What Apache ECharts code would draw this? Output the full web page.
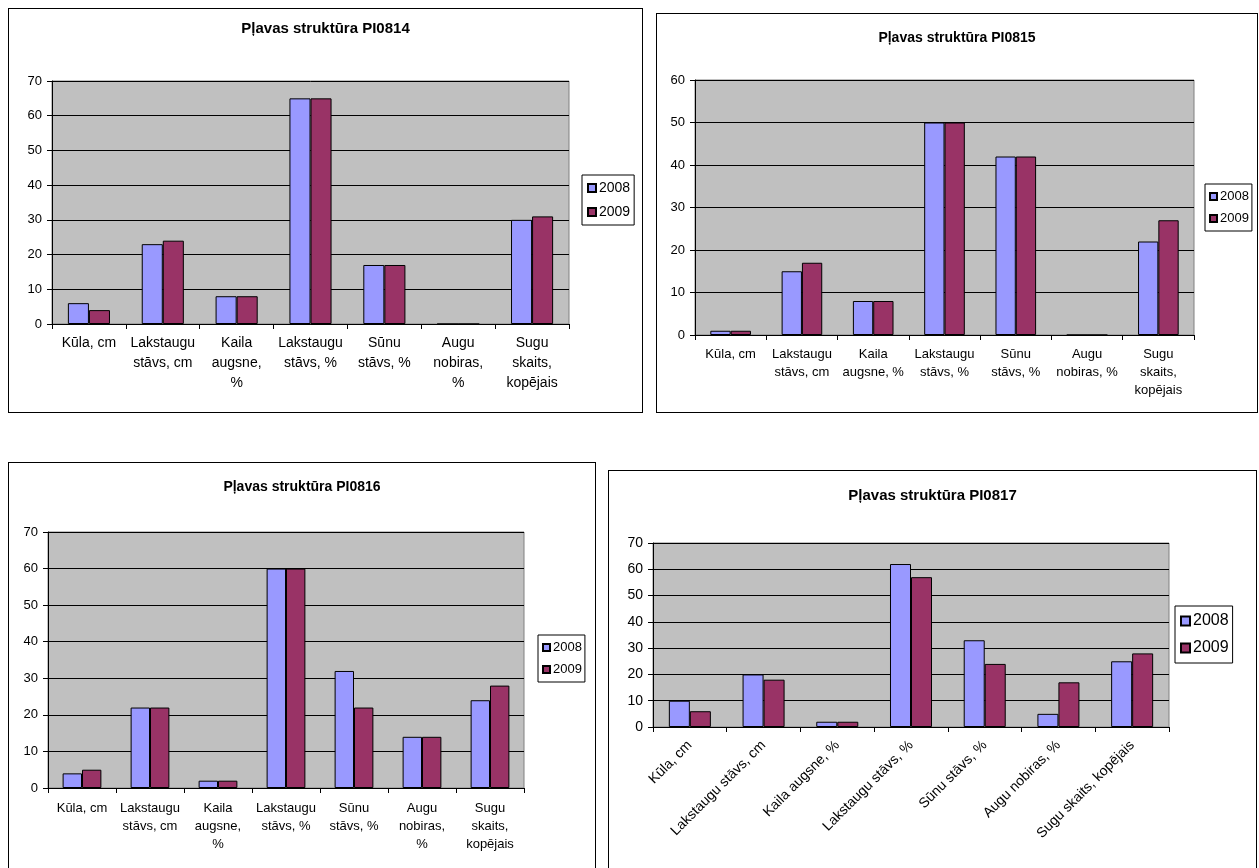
<!DOCTYPE html>
<html>
<head>
<meta charset="utf-8">
<script src="https://cdn.jsdelivr.net/npm/echarts@6/dist/echarts.min.js"></script>
<style>
html,body{margin:0;padding:0;background:#fff;width:1259px;height:868px;overflow:hidden;position:relative;}
.box{position:absolute;border:1px solid #000;box-sizing:border-box;background:#fff;}
.box div.c{position:absolute;left:0;top:0;right:0;bottom:0;}
</style>
</head>
<body>
<div class="box" id="b1" style="left:8px;top:8px;width:635px;height:405px;"><div class="c" id="c1"></div></div>
<div class="box" id="b2" style="left:656px;top:13px;width:602px;height:400px;"><div class="c" id="c2"></div></div>
<div class="box" id="b3" style="left:8px;top:462px;width:588px;height:412px;"><div class="c" id="c3"></div></div>
<div class="box" id="b4" style="left:608px;top:470px;width:649px;height:404px;"><div class="c" id="c4"></div></div>
<script>
// ---- data ----
const seriesNames = ["2008", "2009"];
const categories = ["Kūla, cm", "Lakstaugu stāvs, cm", "Kaila augsne, %", "Lakstaugu stāvs, %", "Sūnu stāvs, %", "Augu nobiras, %", "Sugu skaits, kopējais"];
const labelsWrapA = ["Kūla, cm", "Lakstaugu\nstāvs, cm", "Kaila\naugsne,\n%", "Lakstaugu\nstāvs, %", "Sūnu\nstāvs, %", "Augu\nnobiras,\n%", "Sugu\nskaits,\nkopējais"];
const labelsWrapB = ["Kūla, cm", "Lakstaugu\nstāvs, cm", "Kaila\naugsne, %", "Lakstaugu\nstāvs, %", "Sūnu\nstāvs, %", "Augu\nnobiras, %", "Sugu\nskaits,\nkopējais"];

const titles = ["Pļavas struktūra PI0814", "Pļavas struktūra PI0815", "Pļavas struktūra PI0816", "Pļavas struktūra PI0817"];

const pi0814_2008 = [6, 23, 8, 65, 17, 0, 30];
const pi0814_2009 = [4, 24, 8, 65, 17, 0, 31];
const pi0815_2008 = [1, 15, 8, 50, 42, 0, 22];
const pi0815_2009 = [1, 17, 8, 50, 42, 0, 27];
const pi0816_2008 = [4, 22, 2, 60, 32, 14, 24];
const pi0816_2009 = [5, 22, 2, 60, 22, 14, 28];
const pi0817_2008 = [10, 20, 2, 62, 33, 5, 25];
const pi0817_2009 = [6, 18, 2, 57, 24, 17, 28];

const yMax = [70, 60, 70, 70];
const yInterval = 10;

// ---- styling / layout ----
const FONT = "'Liberation Sans', Arial, sans-serif";
const colors = ["#9999FF", "#993366"];

function makeOption(cfg) {
  return {
    animation: false,
    textStyle: {fontFamily: FONT},
    title: {
      text: cfg.title, left: 'center', top: cfg.titleTop,
      textStyle: {fontFamily: FONT, fontSize: cfg.titleFont, fontWeight: 'bold', color: '#000'}
    },
    legend: {
      data: seriesNames, orient: 'vertical', left: cfg.legendLeft, top: cfg.legendTop,
      padding: cfg.legendPad, itemWidth: cfg.legendIcon, itemHeight: cfg.legendIcon, itemGap: cfg.legendGap,
      icon: 'rect', borderColor: '#000', borderWidth: 1, backgroundColor: '#fff',
      textStyle: {fontFamily: FONT, fontSize: cfg.legendFont, color: '#000', padding: [0, 0, 0, -2]}
    },
    grid: {
      left: cfg.grid[0], top: cfg.grid[1], width: cfg.grid[2], height: cfg.grid[3],
      show: true, backgroundColor: '#C0C0C0', borderColor: '#808080', borderWidth: 1
    },
    xAxis: {
      type: 'category', data: cfg.labels,
      axisLine: {lineStyle: {color: '#000', width: 1}},
      axisTick: {show: true, length: 5, lineStyle: {color: '#000'}},
      axisLabel: Object.assign({
        color: '#000', fontFamily: FONT, fontSize: cfg.xFont, interval: 0,
        lineHeight: cfg.xLineHeight, margin: cfg.xMargin
      }, cfg.xLabelExtra || {})
    },
    yAxis: {
      type: 'value', min: 0, max: cfg.yMax, interval: yInterval,
      axisLine: {show: true, lineStyle: {color: '#000', width: 1}},
      axisTick: {show: true, length: 5, lineStyle: {color: '#000'}},
      axisLabel: {color: '#000', fontFamily: FONT, fontSize: cfg.yFont, margin: 10},
      splitLine: {show: true, lineStyle: {color: '#000', width: 1}}
    },
    series: [
      {name: seriesNames[0], type: 'bar', data: cfg.d1, barGap: '0%', barCategoryGap: '43%',
       itemStyle: {color: colors[0], borderColor: '#000', borderWidth: 1}},
      {name: seriesNames[1], type: 'bar', data: cfg.d2, barGap: '0%', barCategoryGap: '43%',
       itemStyle: {color: colors[1], borderColor: '#000', borderWidth: 1}}
    ]
  };
}

const configs = [
  {el: 'c1', title: titles[0], titleTop: 7, titleFont: 15, labels: labelsWrapA, d1: pi0814_2008, d2: pi0814_2009, yMax: yMax[0],
   grid: [43, 72, 517, 243], legendLeft: 573, legendTop: 166, legendPad: [6, 4, 6, 5], legendIcon: 8, legendGap: 10, legendFont: 14,
   xFont: 14, xLineHeight: 20, xMargin: 9, yFont: 13},
  {el: 'c2', title: titles[1], titleTop: 12, titleFont: 14, labels: labelsWrapB, d1: pi0815_2008, d2: pi0815_2009, yMax: yMax[1],
   grid: [38, 66, 499, 255], legendLeft: 548, legendTop: 170, legendPad: [6, 3, 6, 4], legendIcon: 7, legendGap: 9, legendFont: 13,
   xFont: 13, xLineHeight: 18, xMargin: 10, yFont: 13},
  {el: 'c3', title: titles[2], titleTop: 12, titleFont: 14, labels: labelsWrapA, d1: pi0816_2008, d2: pi0816_2009, yMax: yMax[2],
   grid: [39, 69, 476, 256], legendLeft: 529, legendTop: 172, legendPad: [6, 3, 6, 4], legendIcon: 7, legendGap: 9, legendFont: 13,
   xFont: 13, xLineHeight: 18, xMargin: 11, yFont: 13},
  {el: 'c4', title: titles[3], titleTop: 12, titleFont: 15, labels: categories, d1: pi0817_2008, d2: pi0817_2009, yMax: yMax[3],
   grid: [44, 72, 516, 184], legendLeft: 566, legendTop: 135, legendPad: [7, 4, 7, 5], legendIcon: 9, legendGap: 11, legendFont: 16,
   xFont: 14, xLineHeight: 16, xMargin: 16, yFont: 14, xLabelExtra: {rotate: 45}}
];

configs.forEach(function (cfg) {
  const chart = echarts.init(document.getElementById(cfg.el), null, {renderer: 'canvas'});
  chart.setOption(makeOption(cfg));
});
</script>
</body>
</html>
